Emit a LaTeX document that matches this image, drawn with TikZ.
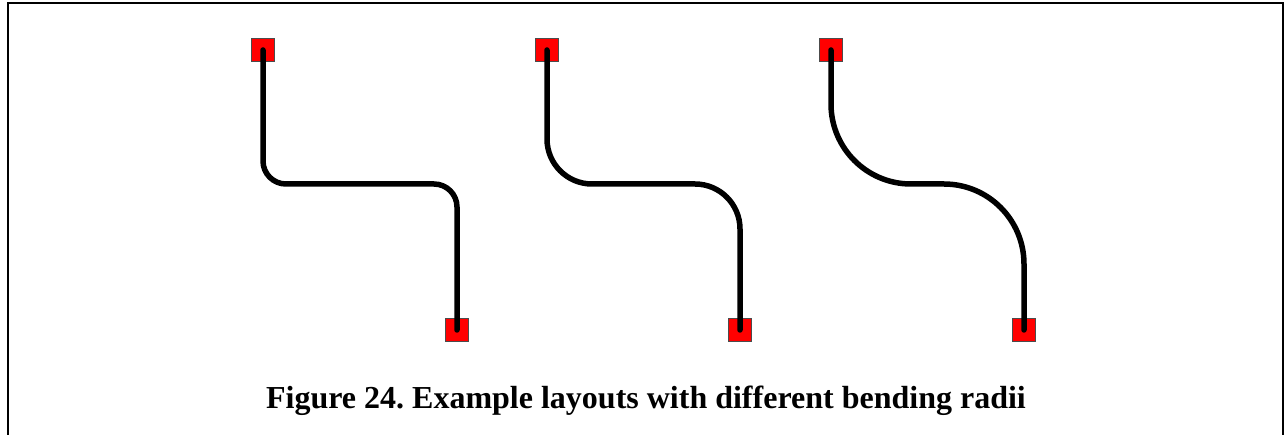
\documentclass[tikz,border=0pt]{standalone}
\usepackage{fontspec}
\setmainfont{Liberation Serif}
\begin{document}
\begin{tikzpicture}[x=1pt,y=-1pt,
  pad/.style={draw=black!70,line width=0.6pt,fill=red,minimum size=23pt,inner sep=0pt,outer sep=0pt},
  wire/.style={line width=5.5pt,line cap=round,line join=round}]
\useasboundingbox (0,0) rectangle (1286,435);
\draw[line width=2.6pt] (8,436) -- (8,3) -- (1283,3) -- (1283,436);
% pads
\node[pad] (s1) at (263,50) {};
\node[pad] (e1) at (457,330) {};
\node[pad] (s2) at (547,50) {};
\node[pad] (e2) at (740,330) {};
\node[pad] (s3) at (831,50) {};
\node[pad] (e3) at (1024,330) {};
\coordinate (m) at (0,184);
% wires
\draw[wire,rounded corners=23pt] (s1.center) -- (s1.center |- m) -- (e1.center |- m) -- (e1.center);
\draw[wire,rounded corners=45pt] (s2.center) -- (s2.center |- m) -- (e2.center |- m) -- (e2.center);
\draw[wire,rounded corners=80pt] (s3.center) -- (s3.center |- m) -- (e3.center |- m) -- (e3.center);
\node[font=\bfseries\fontsize{32}{36}\selectfont,anchor=base] (cap) at (646,409) {\frenchspacing Figure 24. Example layouts with different bending radii};
\end{tikzpicture}
\end{document}
